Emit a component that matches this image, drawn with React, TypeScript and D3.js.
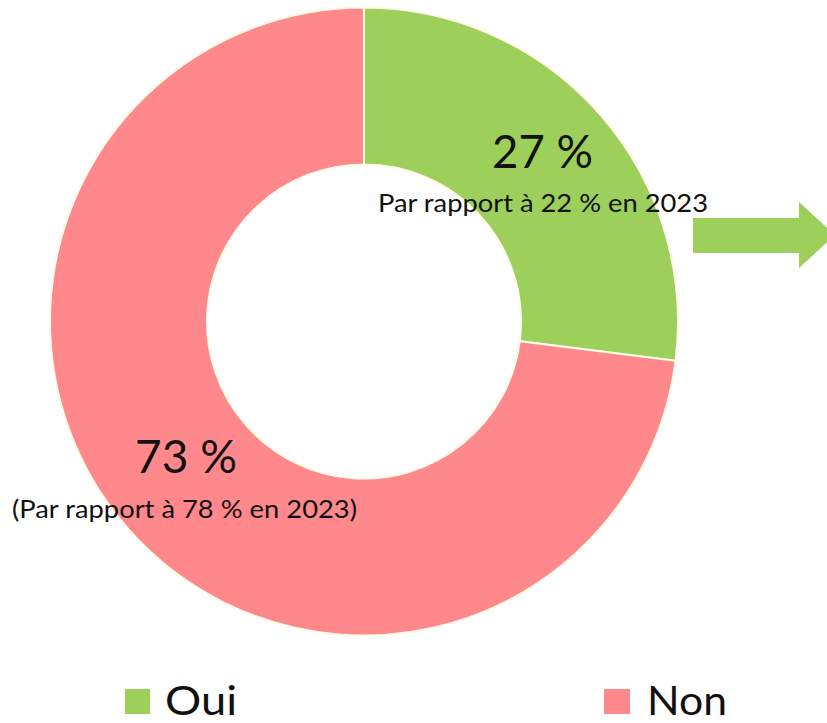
import React from "react";
import * as d3 from "d3";

const categories = ["Oui", "Non"];
const values = [27, 73];
const previous = [22, 78];
const colors = ["#9dd05a", "#ff888d"];

const W = 827;
const H = 723;
const cx = 364;
const cy = 321.5;
const outerR = 314;
const innerR = 157;

export default function App() {
  const pie = d3.pie<number>().sort(null).value((d) => d);
  const arcs = pie(values);
  const arc = d3.arc<d3.PieArcDatum<number>>().innerRadius(innerR).outerRadius(outerR);
  const font = "Lato, 'Open Sans', sans-serif";
  return (
    <svg width={W} height={H} style={{ position: "absolute", left: 0, top: 0 }}>
      <rect width={W} height={H} fill="#ffffff" />
      <g transform={`translate(${cx},${cy})`}>
        {arcs.map((a, i) => (
          <path key={i} d={arc(a) || ""} fill={colors[i]} stroke="#fffbe8" strokeWidth={2} />
        ))}
      </g>
      {/* arrow */}
      <path d="M693,218 L799,218 L799,202 L835,235 L799,268 L799,253 L693,253 Z" fill={colors[0]} />
      {/* labels */}
      <text x={492} y={168} fontFamily={font} fontSize={47} fill="#111" textLength={101} lengthAdjust="spacingAndGlyphs">{`${values[0]} %`}</text>
      <text x={378} y={212} fontFamily={font} fontSize={25} fill="#111" textLength={330} lengthAdjust="spacingAndGlyphs">{`Par rapport à ${previous[0]} % en 2023`}</text>
      <text x={135} y={473} fontFamily={font} fontSize={47} fill="#111" textLength={102} lengthAdjust="spacingAndGlyphs">{`${values[1]} %`}</text>
      <text x={12} y={518} fontFamily={font} fontSize={25} fill="#111" textLength={345} lengthAdjust="spacingAndGlyphs">{`(Par rapport à ${previous[1]} % en 2023)`}</text>
      {/* legend */}
      <rect x={125} y={689} width={25} height={25} fill={colors[0]} />
      <text x={165} y={715} fontFamily={font} fontSize={41} fill="#111" textLength={72} lengthAdjust="spacingAndGlyphs">{categories[0]}</text>
      <rect x={604} y={689} width={26} height={25} fill={colors[1]} />
      <text x={647} y={715} fontFamily={font} fontSize={41} fill="#111" textLength={80} lengthAdjust="spacingAndGlyphs">{categories[1]}</text>
    </svg>
  );
}
